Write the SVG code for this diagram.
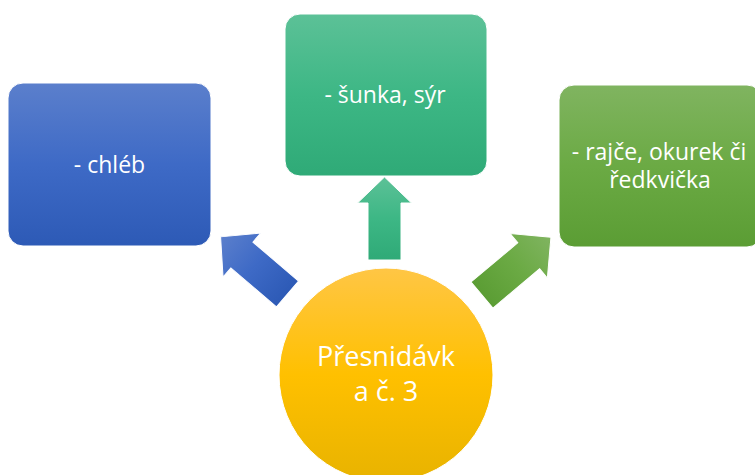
<svg xmlns="http://www.w3.org/2000/svg" width="755" height="475" viewBox="0 0 755 475">
<defs>
<linearGradient id="gBlue" x1="0" y1="0" x2="0" y2="1"><stop offset="0" stop-color="#5B7FCC"/><stop offset="0.5" stop-color="#3E6AC6"/><stop offset="1" stop-color="#2D5AB6"/></linearGradient>
<linearGradient id="gTeal" x1="0" y1="0" x2="0" y2="1"><stop offset="0" stop-color="#5CC197"/><stop offset="0.5" stop-color="#3DB785"/><stop offset="1" stop-color="#2FAA77"/></linearGradient>
<linearGradient id="gGreen" x1="0" y1="0" x2="0" y2="1"><stop offset="0" stop-color="#80B460"/><stop offset="0.5" stop-color="#6BAA44"/><stop offset="1" stop-color="#5B9D34"/></linearGradient>
<linearGradient id="gGold" x1="0" y1="0" x2="0" y2="1"><stop offset="0" stop-color="#FFC645"/><stop offset="0.5" stop-color="#FFC000"/><stop offset="1" stop-color="#E8B300"/></linearGradient>
</defs>
<style>
.box{stroke:#ffffff;stroke-width:1;}
.t{fill:#ffffff;font-family:"Open Sans","Noto Sans",sans-serif;font-size:23px;text-anchor:middle;}
.tc{fill:#ffffff;font-family:"Open Sans","Noto Sans",sans-serif;font-size:27px;text-anchor:middle;}
</style>
<g id="connectors">
<path transform="translate(384.5,260)" d="M-16.5,0 L-16.5,-57 L-27,-57 L0,-83 L27,-57 L16.5,-57 L16.5,0 Z" fill="url(#gTeal)" stroke="#ffffff" stroke-width="1"/>
<path transform="translate(287.5,294) rotate(-49.5)" d="M-17,0 L-17,-60 L-29,-60 L0,-88 L29,-60 L17,-60 L17,0 Z" fill="url(#gBlue)" stroke="#ffffff" stroke-width="1"/>
<path transform="translate(482,295) rotate(50)" d="M-17,0 L-17,-61 L-29,-61 L0,-90 L29,-61 L17,-61 L17,0 Z" fill="url(#gGreen)" stroke="#ffffff" stroke-width="1"/>
</g>
<g id="node-chleb">
<rect class="box" x="8" y="83" width="203" height="163" rx="15" fill="url(#gBlue)"/>
<text class="t" x="109.5" y="172.5">-  chléb</text>
</g>
<g id="node-sunka">
<rect class="box" x="285" y="14" width="202" height="162" rx="15" fill="url(#gTeal)"/>
<text class="t" x="385" y="103">- šunka, sýr</text>
</g>
<g id="node-rajce">
<rect class="box" x="559" y="85" width="203" height="162" rx="15" fill="url(#gGreen)"/>
<text class="t" x="659" y="160">- rajče, okurek či</text>
<text class="t" x="660" y="188">ředkvička</text>
</g>
<g id="node-center">
<circle class="box" cx="386" cy="375" r="107" fill="url(#gGold)"/>
<text class="tc" x="386" y="366">Přesnidávk</text>
<text class="tc" x="386" y="401">a č. 3</text>
</g>
</svg>
